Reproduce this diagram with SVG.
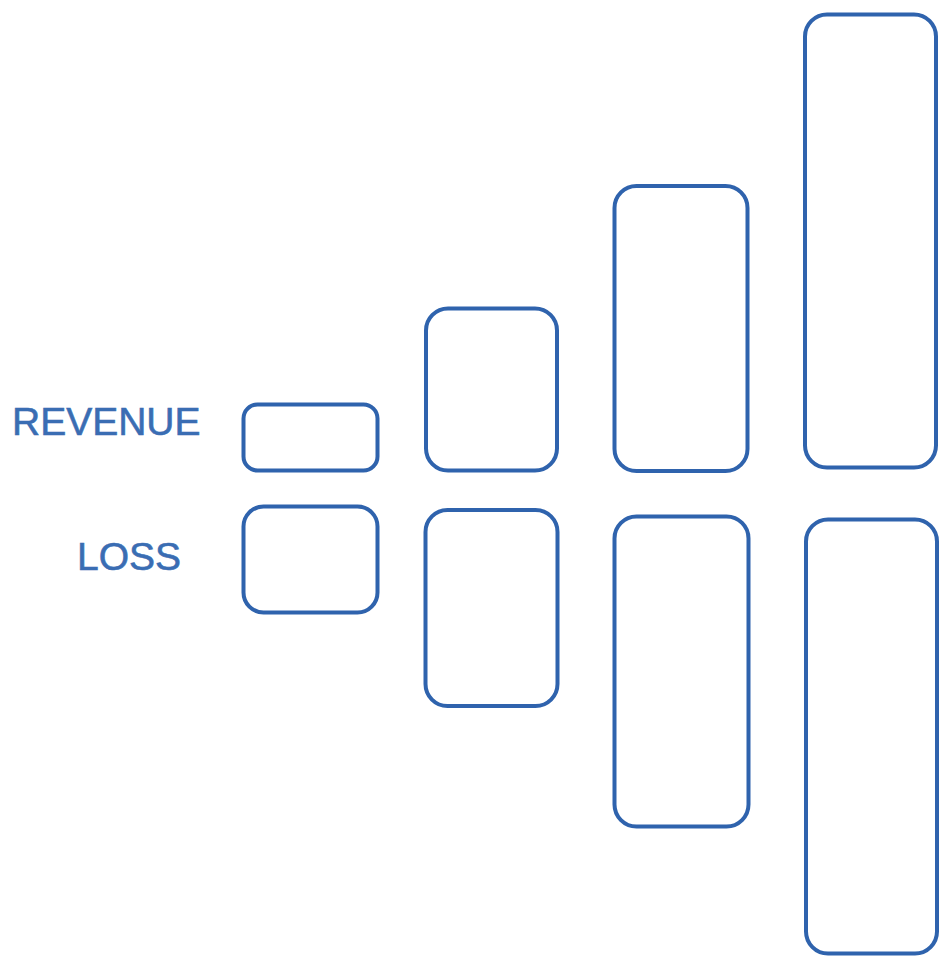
<svg xmlns="http://www.w3.org/2000/svg" width="940" height="958" viewBox="0 0 940 958">
<style>
.bar{fill:none;stroke:#2f63ad;stroke-width:4;stroke-linejoin:round}
.lbl{font-family:"Liberation Sans",Arial,sans-serif;font-size:39px;fill:#3a6db3;stroke:#3a6db3;stroke-width:0.6}
</style>
<rect width="940" height="958" fill="#ffffff"/>
<g id="labels">
<text class="lbl" x="12" y="435">REVENUE</text>
<text class="lbl" x="77" y="570">LOSS</text>
</g>
<g id="revenue">
<g id="rev1"><rect class="bar" x="243.5" y="404.5" width="134" height="66" rx="14"/></g>
<g id="rev2"><rect class="bar" x="426" y="308.5" width="131" height="162" rx="22"/></g>
<g id="rev3"><rect class="bar" x="614.5" y="186" width="133" height="285" rx="22"/></g>
<g id="rev4"><rect class="bar" x="805" y="14.5" width="131" height="453" rx="22"/></g>
</g>
<g id="loss">
<g id="loss1"><rect class="bar" x="243.5" y="506.5" width="134" height="106" rx="20"/></g>
<g id="loss2"><rect class="bar" x="425.5" y="510" width="132" height="196" rx="22"/></g>
<g id="loss3"><rect class="bar" x="614.5" y="516.5" width="134" height="310" rx="22"/></g>
<g id="loss4"><rect class="bar" x="806" y="519.5" width="131" height="434" rx="22"/></g>
</g>
<g id="connectors"></g>
</svg>
